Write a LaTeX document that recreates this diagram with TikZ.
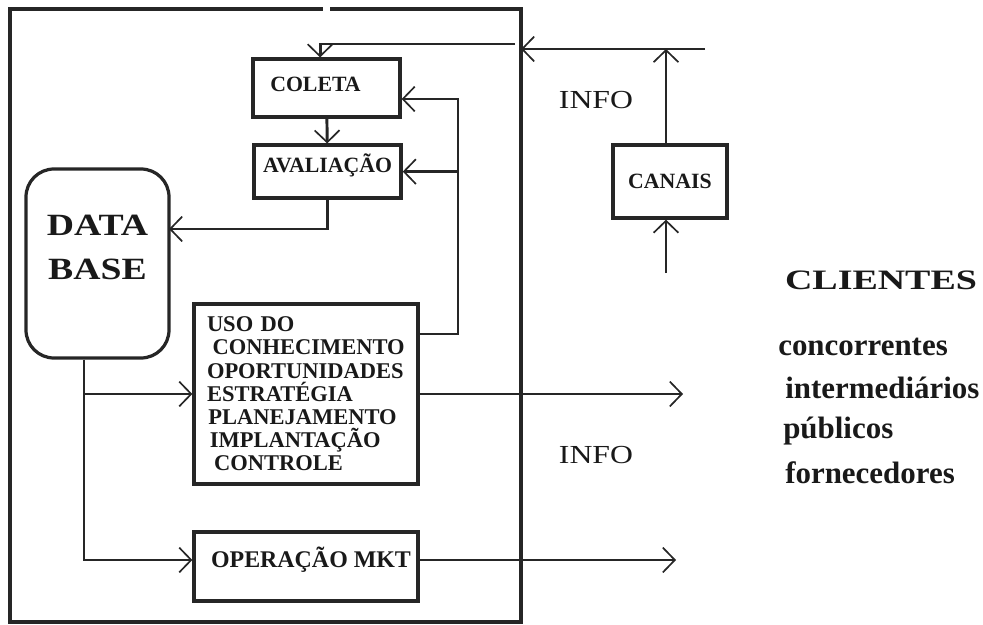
\documentclass[tikz,border=0pt]{standalone}
\usepackage{fontspec}
\setmainfont{Liberation Serif}
\newfontfamily\widefont[FakeStretch=1.22]{Liberation Serif}
\newfontfamily\widerfont[FakeStretch=1.35]{Liberation Serif}
\usepackage{tikz}
\usetikzlibrary{arrows.meta}

\begin{document}
\begin{tikzpicture}[
	>={Straight Barb[length=0.3cm,width=0.62cm,line width=1.2pt 0 1]},
	box/.style={
		rectangle, draw=black!85, line width=2.3pt,
		inner sep=2pt, text=black!90,
		font=\fontsize{15.5}{17}\selectfont\bfseries
	},
	dbbox/.style={
		rectangle, rounded corners=0.7cm,
		draw=black!85, line width=2.3pt,
		minimum width=3.575cm, minimum height=4.725cm,
		text=black!90,
		font=\widefont\fontsize{22}{31}\selectfont\bfseries
	},
	arr/.style={->, line width=2.1pt, black!85},
	wall/.style={line width=2.3pt, black!85},
	info/.style={text=black!90, font=\widefont\fontsize{18.5}{20}\selectfont},
	who/.style={anchor=base west, inner sep=0pt, text=black!90,
		font=\fontsize{22}{24}\selectfont\bfseries}
	]
	\useasboundingbox (0,0) rectangle (24.575,-15.625);
	
	% frame of the firm
	\draw[wall] (8.25,-0.225) -- (13.025,-0.225) -- (13.025,-15.55)
		-- (0.25,-15.55) -- (0.25,-0.225) -- (8.075,-0.225);
	
	\node[box, minimum width=3.675cm, minimum height=1.45cm] (coleta) at (8.1625,-2.2) {\raisebox{0.08cm}[\height][\depth]{COLETA\hspace{0.55cm}}};
	\node[box, minimum width=3.675cm, minimum height=1.325cm] (aval) at (8.19,-4.29) {\raisebox{0.15cm}[\height][\depth]{AVALIAÇÃO}};
	\node[dbbox] (db) at (2.4375,-6.5875)
		{\raisebox{0.37cm}[\height][\depth]{\begin{tabular}{@{}c@{}}DATA\\BASE\end{tabular}}};
	\node[box, text width=4.95cm, inner xsep=0.325cm, minimum height=4.5cm,
		align=left, font=\fontsize{16}{16.5}\selectfont\bfseries] (uso) at (7.65,-9.85)
		{USO DO\\\hspace{4pt}CONHECIMENTO\\OPORTUNIDADES\\ESTRATÉGIA\\\hspace{1pt}PLANEJAMENTO\\\hspace{2pt}IMPLANTAÇÃO\\\hspace{5pt}CONTROLE};
	\node[box, minimum width=5.6cm, minimum height=1.725cm,
		font=\fontsize{17}{18}\selectfont\bfseries] (oper) at (7.65,-14.1625)
		{\raisebox{0.18cm}[\height][\depth]{\hspace{0.25cm}OPERAÇÃO MKT}};
	\node[box, minimum width=2.85cm, minimum height=1.825cm] (canais) at (16.75,-4.5375) {CANAIS};
	
	\node[info] (info1) at (14.9,-2.5) {INFO};
	\node[info] (info2) at (14.9,-11.375) {INFO};
	\node[text=black!90, font=\widerfont\fontsize{20}{22}\selectfont\bfseries] (clientes) at (22.025,-7.0) {CLIENTES};
	\node[who] (conc) at (19.45,-8.875) {concorrentes};
	\node[who] (inter) at (19.625,-9.95) {intermediários};
	\node[who] (pub) at (19.575,-10.95) {públicos};
	\node[who] (forn) at (19.625,-12.075) {fornecedores};
	
	\coordinate (feed) at (12.875,-1.1);
	\coordinate (chan) at (17.625,-1.225);
	\coordinate (gate) at (13.025,-1.225);
	\coordinate (src) at (16.65,-6.825);
	\coordinate (dbin) at (4.225,-5.725);
	\coordinate (fbk) at (11.45,-8.35);
	\coordinate (fbtop) at (11.45,-2.475);
	\coordinate (dbdn) at (2.1,-14.0);
	\coordinate (out1) at (17.075,-9.85);
	\coordinate (out2) at (16.9,-14.0);
	
	% info coming in
	\draw[arr] (chan) -- (gate);
	\draw[arr] (canais.north -| src) -- (gate -| src);
	\draw[arr] (src) -- (canais.south -| src);
	\draw[arr] (feed) -| ([xshift=-0.16cm]coleta.north);
	
	\draw[arr] (coleta) -- (aval);
	\draw[arr] (aval.south) |- (dbin);
	
	% feedback from use of knowledge
	\draw[arr] (uso.east |- fbk) -- (fbk) -- (fbtop) -- (coleta.east |- fbtop);
	\draw[arr] (fbk |- aval.east) -- (aval.east);
	
	\draw[arr] (db.south -| dbdn) -- (dbdn) -- (oper.west |- dbdn);
	\draw[arr] (dbdn |- uso.west) -- (uso.west);
	
	% info going out
	\draw[arr] (uso.east) -- (out1);
	\draw[arr] (oper.east |- out2) -- (out2);
\end{tikzpicture}
\end{document}
